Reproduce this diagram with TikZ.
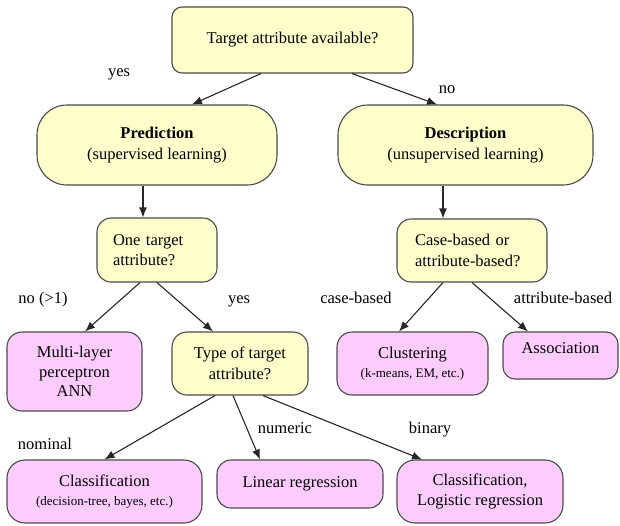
\documentclass[tikz,border=0pt]{standalone}
\usepackage{fontspec}
\setmainfont{LiberationSerif}[Extension=.ttf, UprightFont=*-Regular, BoldFont=*-Bold]
\usetikzlibrary{arrows.meta}
\definecolor{qyellow}{HTML}{FFFFCC}
\definecolor{qpink}{HTML}{FFCCFF}
\definecolor{edgegray}{HTML}{4A4A4A}

\begin{document}
\begin{tikzpicture}[x=1pt,y=-1pt,
  box/.style={draw=edgegray, line width=1.1pt, align=center, inner sep=0pt,
              font=\rmfamily\fontsize{16.5}{20.5}\selectfont},
  question/.style={box, fill=qyellow},
  method/.style={box, fill=qpink},
  sz/.style n args={3}{minimum width=#1pt, minimum height=#2pt, rounded corners=#3pt},
  arr/.style={draw=black!85, line width=1.1pt, -{Latex[length=10pt,width=8pt]}},
  lbl/.style={font=\rmfamily\fontsize{16.5}{20.5}\selectfont, inner sep=0pt,
              text height=11pt, text depth=3.5pt}
]
\useasboundingbox (0,0) rectangle (620,525);

% question boxes (yellow) and method boxes (pink)
\node[question, sz={241}{66}{10}] (top) at (292.5,40) {Target attribute available?};
\node[question, sz={240}{80}{30}] (pred) at (157,145)
  {\textbf{Prediction}\\(supervised learning)};
\node[question, sz={255}{80}{30}] (desc) at (465.5,145)
  {\textbf{Description}\\(unsupervised learning)};
\node[question, sz={120}{64}{14}, align=left, text width=88pt, inner xsep=16pt] (one)
  at (157,250) {One target\\attribute?};
\node[question, sz={150}{63}{14}, align=left, text width=114pt, inner xsep=18pt] (case)
  at (472,250.5) {Case-based or\\attribute-based?};
\node[method, sz={135}{79}{15}] (mlp) at (74.5,371.5)
  {Multi-layer\\[-1pt]perceptron\\[-1pt]ANN};
\node[question, sz={136}{63}{15}] (type) at (240,363.5) {Type of target\\attribute?};
\node[method, sz={151}{63}{15}] (clus) at (412.5,363.5)
  {Clustering\\[-2pt]{\fontsize{13}{15}\selectfont (k-means, EM, etc.)}};
\node[method, sz={115}{47}{12}, text depth=14pt] (assoc) at (560.5,355.5) {Association};
\node[method, sz={195}{63}{18}] (class) at (104.5,491.5)
  {Classification\\[-2pt]{\fontsize{13}{15}\selectfont (decision-tree, bayes, etc.)}};
\node[method, sz={166}{48}{14}] (lin) at (300,484) {Linear regression};
\node[method, sz={166}{63}{18}] (logit) at (480,491.5)
  {Classification,\\Logistic regression};

% branch labels
\node[lbl] (lyes1) at (119,73) {yes};
\node[lbl] (lno1) at (447,90) {no};
\node[lbl] (lno2) at (43,300) {no (>1)};
\node[lbl] (lyes2) at (239,300) {yes};
\node[lbl] (lcase) at (356,300) {case-based};
\node[lbl] (lattr) at (563,300) {attribute-based};
\node[lbl] (lnom) at (45,446) {nominal};
\node[lbl] (lnum) at (285,430) {numeric};
\node[lbl] (lbin) at (430,430) {binary};

% connectors
\draw[arr] ([xshift=-31.5pt]top.south) -- ([xshift=35pt]pred.north);
\draw[arr] ([xshift=59.5pt]top.south) -- ([xshift=-28.5pt]desc.north);
\draw[arr] ([xshift=-14pt]pred.south) -- ([xshift=-14pt]one.north);
\draw[arr] ([xshift=-22.5pt]desc.south) -- ([xshift=-29pt]case.north);
\draw[arr] ([xshift=-17pt]one.south) -- ([xshift=10.5pt]mlp.north);
\draw[arr] (one.south) -- ([xshift=-27pt]type.north);
\draw[arr] ([xshift=-29pt]case.south) -- ([xshift=-13.5pt]clus.north);
\draw[arr] (case.south) -- ([xshift=-32.5pt]assoc.north);
\draw[arr] ([xshift=-25pt]type.south) -- (class.north);
\draw[arr] ([xshift=-7pt]type.south) -- ([xshift=-40pt]lin.north);
\draw[arr] ([xshift=23pt]type.south) -- ([xshift=-58pt]logit.north);
\end{tikzpicture}
\end{document}
